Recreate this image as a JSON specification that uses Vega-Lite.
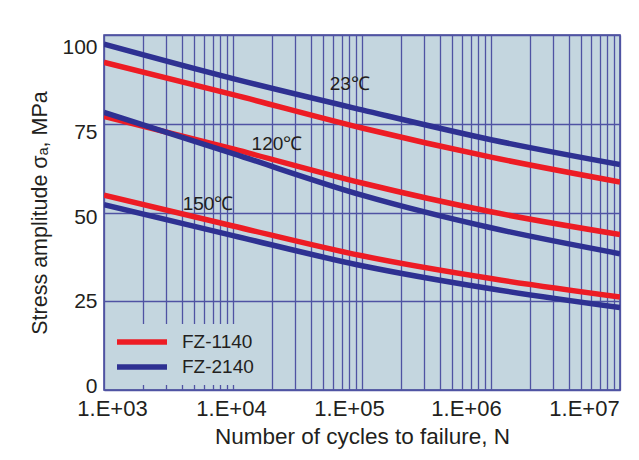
{
  "$schema": "https://vega.github.io/schema/vega-lite/v6.json",
  "width": 516,
  "height": 355,
  "autosize": {"type": "none"},
  "padding": {"left": 104, "top": 35, "right": 19, "bottom": 70},
  "background": "white",
  "config": {
    "font": "Liberation Sans",
    "view": {"fill": "#c4d6df", "stroke": "#3b3f94", "strokeWidth": 1.5},
    "axis": {
      "gridColor": "#4f53a3",
      "gridWidth": 1.3,
      "gridOpacity": 1,
      "ticks": false,
      "domain": false,
      "labelColor": "#231f20",
      "titleColor": "#231f20",
      "titleFontWeight": "normal",
      "labelOverlap": false,
      "labelFlush": false,
      "labelBound": false
    }
  },
  "datasets": {
    "curves": [
      {"material": "FZ-1140", "temp": "23", "N": 1000, "S": 92.3},
      {"material": "FZ-1140", "temp": "23", "N": 10000, "S": 83.2},
      {"material": "FZ-1140", "temp": "23", "N": 100000, "S": 73.8},
      {"material": "FZ-1140", "temp": "23", "N": 1000000, "S": 65.6},
      {"material": "FZ-1140", "temp": "23", "N": 10000000, "S": 58.6},
      {"material": "FZ-1140", "temp": "120", "N": 1000, "S": 77.1},
      {"material": "FZ-1140", "temp": "120", "N": 10000, "S": 67.9},
      {"material": "FZ-1140", "temp": "120", "N": 100000, "S": 58.3},
      {"material": "FZ-1140", "temp": "120", "N": 1000000, "S": 50.2},
      {"material": "FZ-1140", "temp": "120", "N": 10000000, "S": 43.8},
      {"material": "FZ-1140", "temp": "150", "N": 1000, "S": 54.9},
      {"material": "FZ-1140", "temp": "150", "N": 10000, "S": 46.2},
      {"material": "FZ-1140", "temp": "150", "N": 100000, "S": 37.8},
      {"material": "FZ-1140", "temp": "150", "N": 1000000, "S": 31.4},
      {"material": "FZ-1140", "temp": "150", "N": 10000000, "S": 26.2},
      {"material": "FZ-2140", "temp": "23", "N": 1000, "S": 97.4},
      {"material": "FZ-2140", "temp": "23", "N": 10000, "S": 87.7},
      {"material": "FZ-2140", "temp": "23", "N": 100000, "S": 78.9},
      {"material": "FZ-2140", "temp": "23", "N": 1000000, "S": 70.5},
      {"material": "FZ-2140", "temp": "23", "N": 10000000, "S": 63.5},
      {"material": "FZ-2140", "temp": "120", "N": 1000, "S": 78.2},
      {"material": "FZ-2140", "temp": "120", "N": 10000, "S": 66.6},
      {"material": "FZ-2140", "temp": "120", "N": 100000, "S": 54.9},
      {"material": "FZ-2140", "temp": "120", "N": 1000000, "S": 45.7},
      {"material": "FZ-2140", "temp": "120", "N": 10000000, "S": 38.4},
      {"material": "FZ-2140", "temp": "150", "N": 1000, "S": 52.2},
      {"material": "FZ-2140", "temp": "150", "N": 10000, "S": 43.5},
      {"material": "FZ-2140", "temp": "150", "N": 100000, "S": 35.0},
      {"material": "FZ-2140", "temp": "150", "N": 1000000, "S": 28.5},
      {"material": "FZ-2140", "temp": "150", "N": 10000000, "S": 23.2}
    ],
    "notes": [
      {"label": "23℃", "N": 80300, "S": 86.2},
      {"label": "120℃", "N": 21900, "S": 69.2},
      {"label": "150℃", "N": 6400, "S": 52.3}
    ]
  },
  "layer": [
    {
      "data": {"name": "curves"},
      "mark": {"type": "line", "strokeWidth": 5.5, "interpolate": "monotone", "clip": true},
      "encoding": {
        "x": {
          "field": "N",
          "type": "quantitative",
          "scale": {"type": "log", "domain": [1000, 10000000]},
          "axis": {
            "title": "Number of cycles to failure, N",
            "titleFontSize": 22.5,
            "titlePadding": 6,
            "labelFontSize": 22,
            "labelPadding": 8,
            "values": [1000, 2000, 3000, 4000, 5000, 6000, 7000, 8000, 9000, 10000, 20000, 30000, 40000, 50000, 60000, 70000, 80000, 90000, 100000, 200000, 300000, 400000, 500000, 600000, 700000, 800000, 900000, 1000000, 2000000, 3000000, 4000000, 5000000, 6000000, 7000000, 8000000, 9000000, 10000000],
            "labelExpr": "datum.value == 1000 ? '1.E+03' : datum.value == 10000 ? '1.E+04' : datum.value == 100000 ? '1.E+05' : datum.value == 1000000 ? '1.E+06' : datum.value == 10000000 ? '1.E+07' : ''",
            "labelOffset": {
              "condition": [
                {"test": "datum.value == 1000", "value": 8},
                {"test": "datum.value == 10000", "value": -2},
                {"test": "datum.value == 100000", "value": -13},
                {"test": "datum.value == 1000000", "value": -25}
              ],
              "value": -36
            }
          }
        },
        "y": {
          "field": "S",
          "type": "quantitative",
          "scale": {"domain": [0, 100]},
          "axis": {
            "title": "Stress amplitude σₐ, MPa",
            "titleFontSize": 21.5,
            "titlePadding": 10,
            "labelFontSize": 21,
            "labelPadding": 7,
            "values": [0, 25, 50, 75, 100],
            "labelOffset": {
              "condition": [
                {"test": "datum.value == 100", "value": 12},
                {"test": "datum.value == 75", "value": 8.4},
                {"test": "datum.value == 50", "value": 4.7},
                {"test": "datum.value == 0", "value": -3.6}
              ],
              "value": 0
            }
          }
        },
        "color": {
          "field": "material",
          "type": "nominal",
          "scale": {"domain": ["FZ-1140", "FZ-2140"], "range": ["#ed1c24", "#2e3192"]},
          "legend": {
            "title": null,
            "orient": "none",
            "legendX": 2,
            "legendY": 289,
            "padding": 8,
            "fillColor": "#c4d6df",
            "symbolType": "stroke",
            "symbolSize": 2500,
            "symbolStrokeWidth": 5.5,
            "clipHeight": 20,
            "rowPadding": 5,
            "labelOffset": 12,
            "labelFontSize": 19,
            "labelColor": "#231f20"
          }
        },
        "detail": {"field": "temp"}
      }
    },
    {
      "data": {"name": "notes"},
      "mark": {"type": "text", "fontSize": 19, "color": "#231f20", "align": "center", "baseline": "middle"},
      "encoding": {
        "x": {"field": "N", "type": "quantitative"},
        "y": {"field": "S", "type": "quantitative"},
        "text": {"field": "label"}
      }
    }
  ]
}
